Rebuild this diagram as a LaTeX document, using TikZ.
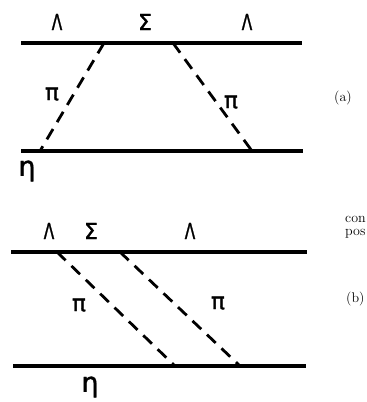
\documentclass[tikz,border=0pt]{standalone}
\usepackage{fontspec}
\newfontfamily\gk{DejaVu Sans}[FakeBold=1.5]
\begin{document}
\begin{tikzpicture}[x=1pt,y=-1pt,
  solidline/.style={line width=3.2pt},
  pionline/.style={line width=2.8pt, dash pattern=on 12pt off 8pt},
  gklab/.style={font=\gk\fontsize{22}{22}\selectfont, inner sep=0pt},
  lamlab/.style={gklab, xscale=0.7},
  pilab/.style={font=\gk\fontsize{23}{23}\selectfont, inner sep=0pt},
  etalab/.style={font=\gk\fontsize{27}{27}\selectfont, inner sep=0pt},
  txt/.style={font=\fontsize{14}{14}\selectfont, inner sep=0pt, anchor=base west}]
\useasboundingbox (0,0) rectangle (367,402);
\clip (0,0) rectangle (367,402);
% ---- (a) ----
\coordinate (a1) at (21,43);  \coordinate (a2) at (302,43);
\coordinate (a3) at (21,151); \coordinate (a4) at (303,151);
\coordinate (ad1) at (104,43); \coordinate (ad2) at (40,151);
\coordinate (ad3) at (173,43); \coordinate (ad4) at (252,151);
\draw[solidline] (a1) -- (a2);
\draw[solidline] (a3) -- (a4);
\draw[pionline] (ad1) -- (ad2);
\draw[pionline] (ad3) -- (ad4);
\node[lamlab] (aL1) at (57,22) {Λ};
\node[gklab] (aS) at (145,22) {Σ};
\node[lamlab] (aL2) at (247,22) {Λ};
\node[pilab] (aP1) at (52,94) {π};
\node[pilab] (aP2) at (231,102) {π};
\node[etalab] (aE) at (27,171) {η};
\node[txt] (la) at (334,101) {(a)};
% ---- (b) ----
\coordinate (b1) at (11,252);  \coordinate (b2) at (307,252);
\coordinate (b3) at (13,366);  \coordinate (b4) at (306,366);
\coordinate (bd1) at (57,252);  \coordinate (bd2) at (175,366);
\coordinate (bd3) at (120,252); \coordinate (bd4) at (240,366);
\draw[solidline] (b1) -- (b2);
\draw[solidline] (b3) -- (b4);
\draw[pionline] (bd1) -- (bd2);
\draw[pionline] (bd3) -- (bd4);
\node[lamlab] (bL1) at (49,231) {Λ};
\node[gklab] (bS) at (91,231) {Σ};
\node[lamlab] (bL2) at (190,231) {Λ};
\node[pilab] (bP1) at (79,305) {π};
\node[pilab] (bP2) at (218,303) {π};
\node[etalab] (bE) at (90,387) {η};
\node[txt] (lb) at (346,302) {(b)};
\node[txt] (t1) at (345,222) {con};
\node[txt] (t2) at (345,235) {pos};
\end{tikzpicture}
\end{document}
